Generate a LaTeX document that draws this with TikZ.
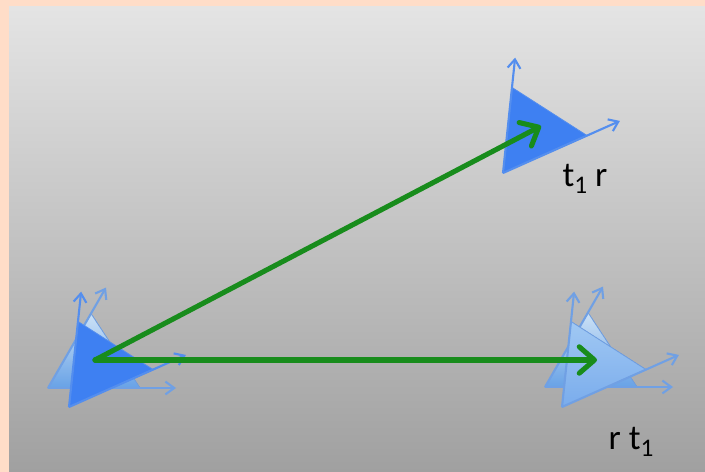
\documentclass[tikz,border=0pt]{standalone}
\usepackage{fontspec}
\setmainfont{Carlito}
\usetikzlibrary{arrows.meta}

\definecolor{peach}{RGB}{255,221,200}
\definecolor{bgtop}{RGB}{228,228,228}
\definecolor{bgbot}{RGB}{160,160,160}
\definecolor{brightblue}{RGB}{62,128,242}
\definecolor{brightaxis}{RGB}{84,142,238}
\definecolor{paletop}{RGB}{205,226,246}
\definecolor{palebot}{RGB}{104,162,230}
\definecolor{softtop}{RGB}{160,200,243}
\definecolor{softbot}{RGB}{122,172,236}
\definecolor{softaxis}{RGB}{112,160,228}
\definecolor{grn}{RGB}{24,140,28}

% one frame: triangle plus its two axes
\newcommand{\triframe}[4]{%
  \begin{scope}[shift={#1},rotate=#2]
    \coordinate (#3o) at (0,0);
    \coordinate (#3x) at (0:92);
    \coordinate (#3y) at (60:86);
    \coordinate (#3ax) at (0:128);
    \coordinate (#3ay) at (60:116);
    \filldraw[#4] (#3o) -- (#3x) -- (#3y) -- cycle;
  \end{scope}}

\begin{document}
\begin{tikzpicture}[x=0.025cm,y=0.025cm,font=\fontsize{25}{28}\selectfont]
\tikzstyle{brighttri}=[fill=brightblue,draw=brightaxis,line width=0.6pt]
\tikzstyle{paletri}=[top color=paletop,bottom color=palebot,draw=softaxis,line width=0.6pt]
\tikzstyle{softtri}=[top color=softtop,bottom color=softbot,draw=softaxis,line width=0.6pt]
\tikzstyle{axis}=[line width=1.5pt,-{Straight Barb[length=2.2mm,width=3.2mm]}]
\tikzstyle{move}=[grn,line width=3.6pt,line cap=round,-{Straight Barb[length=3.8mm,width=6.6mm,line cap=round,line join=round]}]
\tikzstyle{lbl}=[inner sep=0pt]

\useasboundingbox (0,0) rectangle (705,-472);
\fill[peach] (0,0) rectangle (705,-472);
\shade[top color=bgtop,bottom color=bgbot] (9,-7) rectangle (705,-472);

% start pose, left
\triframe{(48,-388)}{0}{la}{paletri}
\draw[axis,softaxis] (lao) -- (laax);
\draw[axis,softaxis] (lao) -- (laay);
\triframe{(69,-407)}{24}{lb}{brighttri}
\draw[axis,brightaxis] (lbo) -- (lbax);
\draw[axis,brightaxis] (lbo) -- (lbay);

% t1 r, top right
\triframe{(503,-173)}{24}{tr}{brighttri}
\draw[axis,brightaxis] (tro) -- (trax);
\draw[axis,brightaxis] (tro) -- (tray);

% r t1, bottom right
\triframe{(545,-387)}{0}{ba}{paletri}
\draw[axis,softaxis] (bao) -- (baax);
\draw[axis,softaxis] (bao) -- (baay);
\triframe{(562,-407)}{24}{bb}{softtri}
\draw[axis,softaxis] (bbo) -- (bbax);
\draw[axis,softaxis] (bbo) -- (bbay);

\coordinate (cL) at (95,-360);
\coordinate (cTR) at (541,-126);
\coordinate (cBR) at (597,-360);
\draw[move] (cL) -- (cTR);
\draw[move] (cL) -- (cBR);

\node[lbl] (lblTR) at (585,-179) {t\raisebox{-0.45ex}{\fontsize{18}{18}\selectfont 1} r};
\node[lbl] (lblBR) at (631,-442) {r t\raisebox{-0.45ex}{\fontsize{18}{18}\selectfont 1}};
\end{tikzpicture}
\end{document}
